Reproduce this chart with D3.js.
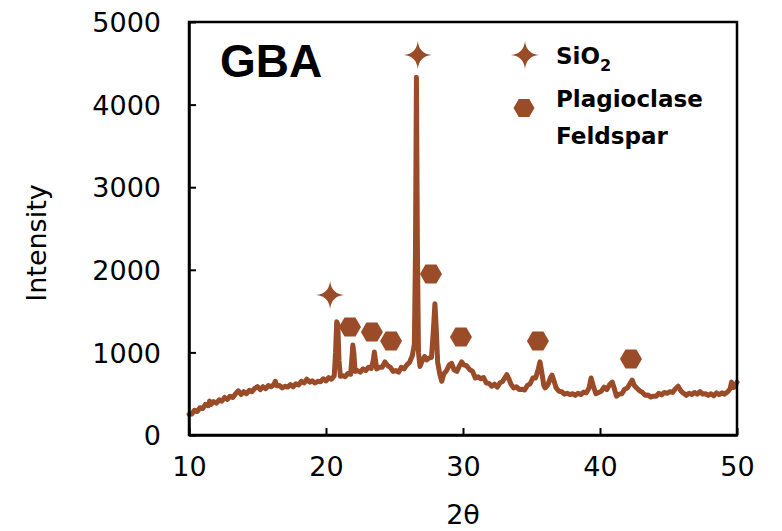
<!DOCTYPE html>
<html>
<head>
<meta charset="utf-8">
<script src="https://cdn.jsdelivr.net/npm/d3@7/dist/d3.min.js"></script>
<style>
  html, body { margin: 0; padding: 0; background: #fff; }
  svg { display: block; }
</style>
</head>
<body>
<svg id="chart" width="782" height="531"></svg>
<script>
// XRD pattern of the GBA sample: diffraction angle (2θ, degrees) and counts
const twoTheta = [
  10.0, 10.2, 10.4, 10.6, 10.8, 11.0, 11.2, 11.4, 11.5, 11.6, 11.8, 12.0, 12.2, 12.4, 12.6, 12.8,
  13.0, 13.2, 13.4, 13.6, 13.8, 14.0, 14.2, 14.4, 14.6, 14.8, 15.0, 15.2, 15.4, 15.6, 15.8, 16.0,
  16.2, 16.3, 16.4, 16.6, 16.8, 17.0, 17.2, 17.4, 17.6, 17.8, 18.0, 18.2, 18.4, 18.6, 18.8, 19.0,
  19.2, 19.4, 19.6, 19.8, 20.0, 20.2, 20.4, 20.6, 20.7, 20.78, 20.86, 20.95, 21.05, 21.2, 21.4, 21.6,
  21.8, 21.9, 21.96, 22.04, 22.12, 22.3, 22.5, 22.7, 22.9, 23.1, 23.3, 23.45, 23.53, 23.6, 23.7, 23.9,
  24.1, 24.3, 24.5, 24.7, 24.9, 25.1, 25.3, 25.5, 25.7, 25.9, 26.1, 26.3, 26.45, 26.53, 26.6, 26.67,
  26.75, 26.86, 27.0, 27.2, 27.35, 27.5, 27.7, 27.85, 27.95, 28.05, 28.15, 28.3, 28.45, 28.6, 28.8, 29.0,
  29.17, 29.35, 29.55, 29.75, 29.9, 30.05, 30.25, 30.5, 30.7, 30.9, 31.1, 31.3, 31.5, 31.7, 31.9, 32.1,
  32.3, 32.5, 32.7, 32.9, 33.1, 33.2, 33.35, 33.5, 33.7, 33.9, 34.1, 34.3, 34.5, 34.7, 34.9, 35.1,
  35.3, 35.5, 35.62, 35.75, 35.9, 36.0, 36.2, 36.4, 36.5, 36.65, 36.8, 37.0, 37.2, 37.4, 37.6, 37.8,
  38.0, 38.2, 38.4, 38.6, 38.8, 39.0, 39.2, 39.35, 39.5, 39.7, 39.9, 40.1, 40.3, 40.5, 40.7, 40.9,
  41.05, 41.2, 41.4, 41.6, 41.8, 42.0, 42.2, 42.35, 42.5, 42.7, 42.9, 43.1, 43.3, 43.5, 43.7, 43.9,
  44.1, 44.3, 44.5, 44.7, 44.9, 45.1, 45.3, 45.5, 45.7, 45.9, 46.1, 46.3, 46.5, 46.7, 46.9, 47.1,
  47.3, 47.5, 47.7, 47.9, 48.1, 48.3, 48.5, 48.7, 48.9, 49.1, 49.3, 49.5, 49.6, 49.75, 49.9, 50.0
];
const intensity = [
  250, 255, 300, 285, 330, 320, 370, 355, 410, 370, 405, 385, 425, 410, 455, 430,
  470, 455, 500, 535, 490, 525, 500, 540, 525, 565, 585, 550, 585, 560, 600, 585,
  610, 650, 595, 600, 570, 590, 580, 610, 585, 620, 605, 650, 630, 675, 640, 655,
  630, 650, 645, 680, 655, 695, 675, 715, 1000, 1370, 1340, 900, 710, 720, 705, 745,
  735, 950, 1090, 980, 770, 780, 760, 800, 780, 820, 805, 900, 1005, 920, 800, 820,
  820, 885, 840, 820, 770, 780, 760, 820, 800, 850, 880, 960, 1100, 2200, 4330, 2300,
  1000, 830, 890, 950, 910, 930, 940, 1300, 1590, 1280, 880, 740, 650, 740, 780, 850,
  868, 790, 770, 840, 885, 850, 840, 790, 770, 690, 705, 680, 695, 630, 625, 590,
  615, 580, 630, 650, 705, 730, 680, 615, 570, 585, 550, 555, 545, 600, 620, 690,
  690, 800, 885, 760, 600, 570, 610, 700, 725, 650, 570, 530, 525, 495, 505, 490,
  500, 480, 505, 490, 520, 510, 570, 690, 600, 500, 515, 530, 580, 550, 610, 640,
  560, 470, 495, 500, 555, 570, 625, 665, 600, 565, 535, 515, 480, 485, 460, 470,
  470, 505, 485, 515, 505, 525, 515, 560, 590, 535, 505, 480, 505, 490, 515, 495,
  525, 495, 500, 480, 500, 475, 510, 490, 510, 495, 520, 560, 640, 575, 610, 640
];

// Phase markers placed above the assigned reflections: [2θ, intensity]
const quartzMarks = [[20.3, 1695], [26.7, 4600]];
const feldsparMarks = [[21.75, 1307], [23.35, 1247], [24.75, 1138], [27.66, 1950], [29.85, 1186], [35.47, 1138], [42.26, 920]];

const xTicks = [10, 20, 30, 40, 50];
const yTicks = [0, 1000, 2000, 3000, 4000, 5000];

const sampleName = "GBA";
const xTitle = "2θ";
const yTitle = "Intensity";

const brown = "#9a4b27";
const fontFamily = "'DejaVu Sans', sans-serif";

const svg = d3.select("#chart");
const plot = { left: 189, right: 737, top: 22, bottom: 435 };

const x = d3.scaleLinear().domain([10, 50]).range([plot.left, plot.right]);
const y = d3.scaleLinear().domain([0, 5000]).range([plot.bottom, plot.top]);

// Diffraction trace
const pts = twoTheta.map((t, i) => [t, intensity[i]]);
svg.append("path")
  .datum(pts)
  .attr("fill", "none")
  .attr("stroke", brown)
  .attr("stroke-width", 5)
  .attr("stroke-linejoin", "round")
  .attr("stroke-linecap", "round")
  .attr("d", d3.line().x(d => x(d[0])).y(d => y(d[1])));

// Marker shapes
function starPath(R, c) {
  return `M0,${-R} Q${c},${-c} ${R},0 Q${c},${c} 0,${R} Q${-c},${c} ${-R},0 Q${-c},${-c} 0,${-R} Z`;
}
function hexPath(r) {
  const p = d3.range(6).map(k => {
    const a = Math.PI / 3 * k;
    return [r * Math.cos(a), r * Math.sin(a)];
  });
  return "M" + p.map(q => q.join(",")).join("L") + "Z";
}
const star = starPath(14, 1.3);
const hex = hexPath(11);

svg.append("g").selectAll("path")
  .data(quartzMarks).join("path")
  .attr("transform", d => `translate(${x(d[0])},${y(d[1])})`)
  .attr("d", star)
  .attr("fill", brown);

svg.append("g").selectAll("path")
  .data(feldsparMarks).join("path")
  .attr("transform", d => `translate(${x(d[0])},${y(d[1])})`)
  .attr("d", hex)
  .attr("fill", brown);

// Axes with inward ticks, plus the closing frame
const xAxis = svg.append("g")
  .attr("transform", `translate(0,${plot.bottom})`)
  .call(d3.axisBottom(x).tickValues(xTicks).tickFormat(d3.format("d"))
    .tickSizeInner(-7).tickSizeOuter(0).tickPadding(22));
const yAxis = svg.append("g")
  .attr("transform", `translate(${plot.left},0)`)
  .call(d3.axisLeft(y).tickValues(yTicks).tickFormat(d3.format("d"))
    .tickSizeInner(-7).tickSizeOuter(0).tickPadding(28));

[xAxis, yAxis].forEach(g => {
  g.select(".domain").attr("stroke", "#000").attr("stroke-width", 2.5);
  g.selectAll(".tick line").attr("stroke", "#000").attr("stroke-width", 2);
  g.selectAll(".tick text")
    .attr("font-family", fontFamily)
    .attr("font-size", 27)
    .attr("fill", "#000");
});
xAxis.selectAll(".tick text").attr("dy", "0.71em");
yAxis.selectAll(".tick text").attr("dy", "0.36em");

svg.append("rect")
  .attr("x", plot.left).attr("y", plot.top)
  .attr("width", plot.right - plot.left).attr("height", plot.bottom - plot.top)
  .attr("fill", "none").attr("stroke", "#000").attr("stroke-width", 2.5);

// Axis titles
svg.append("text")
  .attr("x", x(30)).attr("y", 524)
  .attr("text-anchor", "middle")
  .attr("font-family", fontFamily).attr("font-size", 27)
  .text(xTitle);

svg.append("text")
  .attr("transform", "translate(46,243) rotate(-90)")
  .attr("text-anchor", "middle")
  .attr("font-family", fontFamily).attr("font-size", 27)
  .text(yTitle);

// Sample name
svg.append("text")
  .attr("x", 220).attr("y", 77)
  .attr("font-family", "'Liberation Sans', Arial, sans-serif")
  .attr("font-weight", 700).attr("font-size", 46)
  .text(sampleName);

// Legend
const legend = svg.append("g").attr("font-family", fontFamily).attr("font-weight", 700).attr("font-size", 23);
legend.append("path").attr("transform", "translate(525,55)").attr("d", star).attr("fill", brown);
legend.append("path").attr("transform", "translate(524,108)").attr("d", hexPath(10.5)).attr("fill", brown);
const si = legend.append("text").attr("x", 556).attr("y", 64);
si.append("tspan").text("SiO");
si.append("tspan").attr("font-size", 16).attr("dy", 7).text("2");
legend.append("text").attr("x", 556).attr("y", 107).text("Plagioclase");
legend.append("text").attr("x", 556).attr("y", 144).text("Feldspar");
</script>
</body>
</html>
